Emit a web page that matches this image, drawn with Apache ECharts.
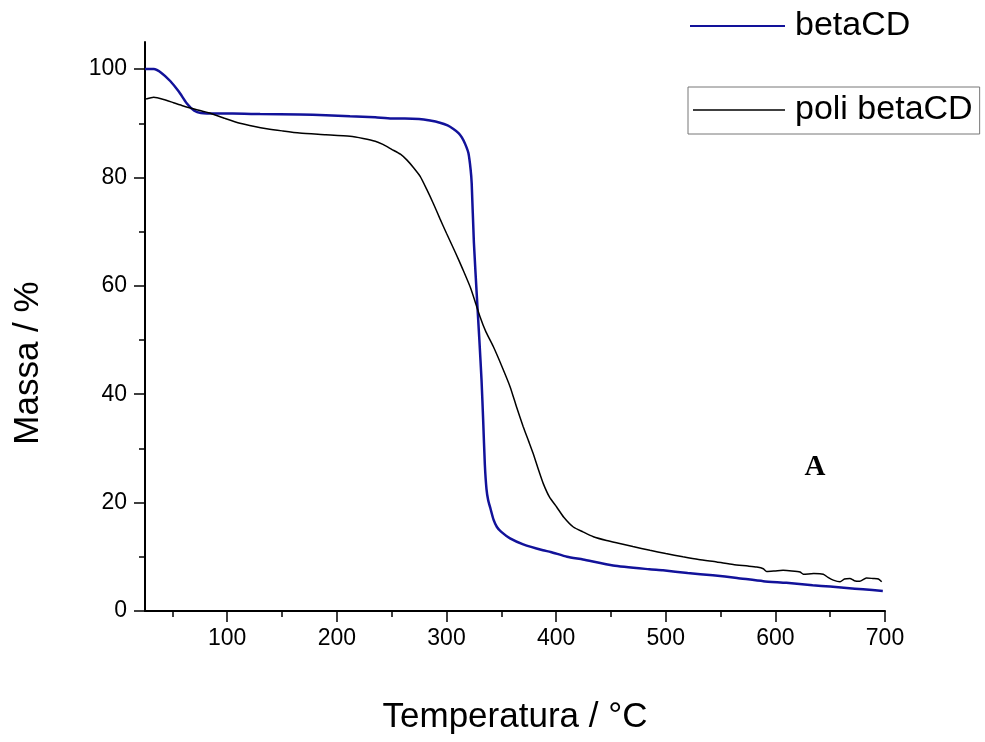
<!DOCTYPE html>
<html>
<head>
<meta charset="utf-8">
<script src="https://cdn.jsdelivr.net/npm/echarts@6/dist/echarts.min.js"></script>
<style>
	html, body { margin: 0; padding: 0; background: #fff; }
	#chart { width: 985px; height: 742px; }
</style>
</head>
<body>
<div id="chart"></div>
<script>
// values
var betaTemp = [25, 33, 40, 48, 56, 63, 70, 76, 90, 105, 130, 166, 190, 212, 235, 250, 262, 275, 285, 294, 301, 306, 311, 314, 317, 320, 322, 323, 325, 328, 330, 332, 333.5, 335, 336.5, 338, 340, 343, 346, 350, 358, 370, 388, 395, 410, 424.5, 452, 485, 497.5, 520, 543, 565, 589, 610, 634, 650, 665, 680, 698];
var betaMass = [100, 100, 99.3, 97.8, 95.8, 93.7, 92.3, 91.9, 91.8, 91.8, 91.7, 91.6, 91.5, 91.3, 91.1, 90.9, 90.9, 90.8, 90.5, 90.1, 89.6, 89.0, 88.2, 87.4, 86.2, 84.5, 81.5, 78.9, 68, 57, 50, 42.5, 35, 27, 22.5, 20.5, 19, 16.8, 15.5, 14.6, 13.4, 12.3, 11.2, 10.9, 10.0, 9.5, 8.4, 7.7, 7.5, 7.0, 6.6, 6.1, 5.5, 5.2, 4.75, 4.5, 4.25, 4.0, 3.7];

var poliTemp = [26, 33, 42, 51, 60, 70.6, 84, 98, 111.6, 125, 136, 150, 166, 190, 212, 224, 235, 242, 250, 258, 264, 270, 276, 282, 288, 294, 300, 308, 315, 322, 330.6, 336, 342.7, 350, 358, 364, 370, 375, 379, 384, 388.3, 394, 400.5, 407, 415.7, 424.5, 434, 446, 458, 470, 485.6, 500, 515.7, 530, 546.5, 561.5, 575, 583, 589, 592, 600, 607, 615, 622.5, 625.5, 635, 643.7, 648, 652.8, 659, 663, 668, 672, 677, 683, 689, 694, 697];
var poliMass = [94.5, 94.8, 94.4, 93.8, 93.2, 92.6, 91.9, 90.9, 90.0, 89.4, 89.0, 88.6, 88.2, 87.9, 87.6, 87.2, 86.7, 86.1, 85.2, 84.3, 83.2, 81.8, 80.2, 77.8, 75.2, 72.4, 69.7, 66.2, 63, 59.6, 54.3, 51.5, 48.8, 45.4, 41.4, 37.6, 34, 31.3, 29.1, 26, 23.5, 21, 19.2, 17.3, 15.5, 14.6, 13.7, 13.0, 12.45, 11.9, 11.2, 10.6, 10.0, 9.5, 9.05, 8.6, 8.3, 8.1, 7.8, 7.3, 7.4, 7.5, 7.4, 7.2, 6.8, 6.9, 6.8, 6.2, 5.7, 5.4, 5.9, 6.0, 5.6, 5.5, 6.1, 6.0, 5.9, 5.4];

var xMajorTicks = [100, 200, 300, 400, 500, 600, 700];
var xMinorTicks = [50, 150, 250, 350, 450, 550, 650];
var yMajorTicks = [0, 20, 40, 60, 80, 100];
var yMinorTicks = [10, 30, 50, 70, 90];

function zip(xs, ys) {
	var out = [];
	for (var i = 0; i < xs.length; i++) out.push([xs[i], ys[i]]);
	return out;
}

var font = '"Liberation Sans", Arial, sans-serif';
var xMin = 25, xMax = 700, yMin = 0, yMax = 105;

var myChart = echarts.init(document.getElementById('chart'), null, { renderer: 'canvas' });

var option = {
	animation: false,
	backgroundColor: '#fff',
	grid: { left: 145, right: 100, top: 42, bottom: 131 },
	legend: [
		{
			data: ['betaCD'],
			left: 690, top: 9,
			padding: 0,
			icon: 'rect', itemWidth: 95, itemHeight: 2,
			textStyle: { fontFamily: font, fontSize: 34, color: '#000', padding: [0, 0, 0, 5] }
		},
		{
			data: ['poli betaCD'],
			left: 688, top: 87,
			padding: [6, 7, 7, 5],
			borderColor: '#777', borderWidth: 1,
			icon: 'rect', itemWidth: 92, itemHeight: 1.5,
			textStyle: { fontFamily: font, fontSize: 34, color: '#000', padding: [0, 0, 0, 5] }
		}
	],
	xAxis: [
		{
			type: 'value', min: xMin, max: xMax,
			axisLine: { lineStyle: { color: '#000', width: 2 } },
			axisTick: { customValues: xMajorTicks, length: 11, lineStyle: { color: '#000', width: 1.5 } },
			axisLabel: { customValues: xMajorTicks, margin: 16, fontFamily: font, fontSize: 23, color: '#000' },
			splitLine: { show: false }
		},
		{
			type: 'value', min: xMin, max: xMax, position: 'bottom',
			axisLine: { show: false },
			axisTick: { customValues: xMinorTicks, length: 6, lineStyle: { color: '#000', width: 1.5 } },
			axisLabel: { show: false },
			splitLine: { show: false }
		}
	],
	yAxis: [
		{
			type: 'value', min: yMin, max: yMax,
			axisLine: { show: true, lineStyle: { color: '#000', width: 2 } },
			axisTick: { show: true, customValues: yMajorTicks, length: 11, lineStyle: { color: '#000', width: 1.5 } },
			axisLabel: { customValues: yMajorTicks, margin: 18, fontFamily: font, fontSize: 23, color: '#000' },
			splitLine: { show: false }
		},
		{
			type: 'value', min: yMin, max: yMax, position: 'left',
			axisLine: { show: false },
			axisTick: { show: true, customValues: yMinorTicks, length: 6, lineStyle: { color: '#000', width: 1.5 } },
			axisLabel: { show: false },
			splitLine: { show: false }
		}
	],
	series: [
		{
			name: 'betaCD', type: 'line',
			data: zip(betaTemp, betaMass),
			showSymbol: false, symbol: 'none',
			smooth: 0.2,
			lineStyle: { color: '#12129a', width: 2.5 },
			itemStyle: { color: '#12129a' }
		},
		{
			name: 'poli betaCD', type: 'line',
			data: zip(poliTemp, poliMass),
			showSymbol: false, symbol: 'none',
			smooth: 0.2,
			lineStyle: { color: '#000', width: 1.5 },
			itemStyle: { color: '#000' }
		}
	],
	graphic: [
		{
			type: 'text', x: 515, y: 717,
			style: { text: 'Temperatura / °C', font: '35px ' + font, fill: '#000', align: 'center', verticalAlign: 'middle' }
		},
		{
			type: 'text', x: 28, y: 363, rotation: Math.PI / 2,
			style: { text: 'Massa / %', font: '35px ' + font, fill: '#000', align: 'center', verticalAlign: 'middle' }
		},
		{
			type: 'text', x: 815, y: 468,
			style: { text: 'A', font: 'bold 29px "Liberation Serif", "Times New Roman", serif', fill: '#000', align: 'center', verticalAlign: 'middle' }
		}
	]
};

myChart.setOption(option);
</script>
</body>
</html>
